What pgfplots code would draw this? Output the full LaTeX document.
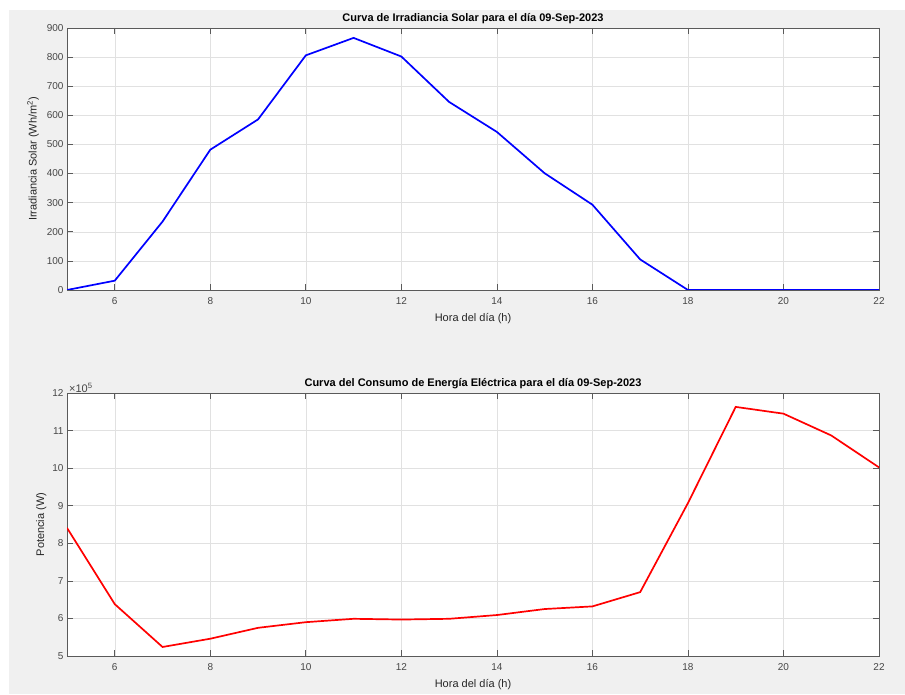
\documentclass[border=0pt]{standalone}
\usepackage{fontspec}
\setmainfont{Liberation Sans}
\usepackage{pgfplots}
\pgfplotsset{compat=1.18}
\definecolor{figbg}{RGB}{240,240,240}
\definecolor{axcol}{RGB}{90,90,90}
\definecolor{tickcol}{RGB}{70,70,70}
\definecolor{gridcol}{RGB}{225,225,225}
\pgfplotsset{
  matstyle/.style={
    scale only axis,
    anchor=south west,
    width=812pt,
    xmin=5, xmax=22,
    xtick={6,8,...,22},
    grid=major,
    major grid style={gridcol, line width=0.5pt},
    axis line style={axcol, line width=0.7pt},
    tick style={axcol, line width=0.7pt},
    tick align=inside,
    major tick length=6pt,
    xtick pos=both, ytick pos=both,
    tick label style={font=\fontsize{10}{12}\selectfont, text=tickcol},
    xticklabel style={yshift=-4pt},
    label style={font=\fontsize{11}{13}\selectfont, text=black!85},
    xlabel style={yshift=-2pt},
    title style={font=\bfseries\fontsize{11}{13}\selectfont, text=black, yshift=-5pt},
    /pgf/number format/assume math mode=true,
    axis background/.style={fill=white},
    xlabel={Hora del día (h)},
  }
}
\begin{document}
\begin{tikzpicture}
\fill[white] (0pt,0pt) rectangle (905pt,695pt);
\fill[figbg] (9pt,1pt) rectangle (905pt,685pt);
\begin{axis}[matstyle,
  at={(67pt,405pt)}, height=262pt,
  ymin=0, ymax=900, ytick={0,100,...,900},
  title={Curva de Irradiancia Solar para el día 09-Sep-2023},
  ylabel={Irradiancia Solar (Wh/m\textsuperscript{2})},
  ylabel style={yshift=1pt},
]
\addplot[blue, line width=1.7pt] coordinates {
(5,0) (6,32) (7,235) (8,482) (9,586) (10,806) (11,866) (12,802) (13,646)
(14,543) (15,401) (16,293) (17,105) (18,0) (19,0) (20,0) (21,0) (22,0)
};
\end{axis}
\begin{axis}[matstyle,
  at={(67pt,39pt)}, height=263pt,
  ymin=500000, ymax=1200000, ytick={500000,600000,...,1200000},
  scaled y ticks=base 10:-5,
  ytick scale label code/.code={{\fontsize{11}{13}\selectfont ×10\textsuperscript{#1}}},
  every y tick scale label/.style={at={(rel axis cs:0,1)}, anchor=south west, xshift=1pt, yshift=-1pt, inner sep=1pt, text=tickcol},
  title={Curva del Consumo de Energía Eléctrica para el día 09-Sep-2023},
  ylabel={Potencia (W)},
  ylabel style={yshift=-1pt},
]
\addplot[red, line width=1.7pt] coordinates {
(5,841000) (6,638000) (7,524000) (8,546000) (9,575000) (10,590000) (11,599000)
(12,597000) (13,599000) (14,609000) (15,625000) (16,632000) (17,670000)
(18,907000) (19,1163000) (20,1145000) (21,1087000) (22,1002000)
};
\end{axis}
\end{tikzpicture}
\end{document}
